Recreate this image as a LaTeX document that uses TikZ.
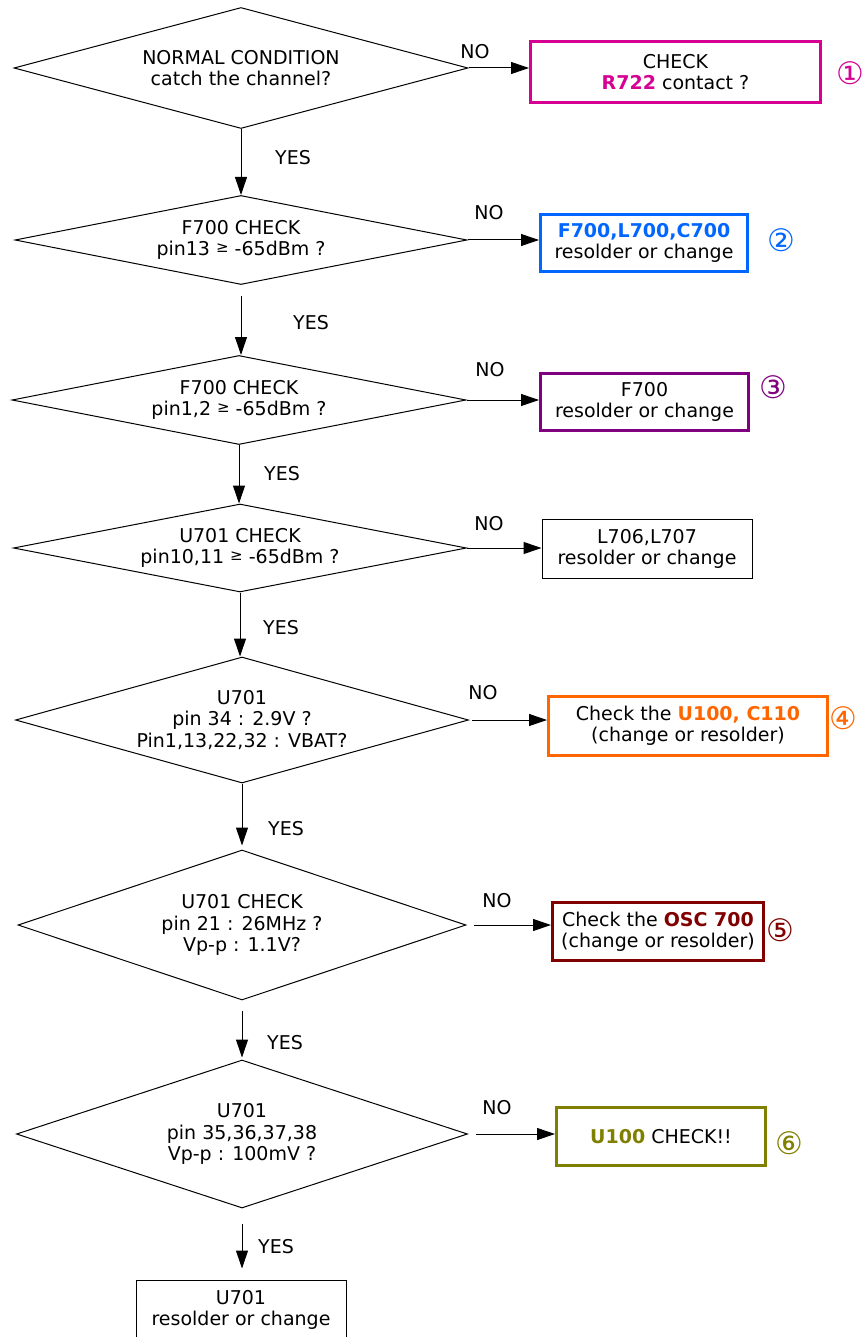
\documentclass[tikz,border=0pt]{standalone}
\usepackage{fontspec}
\setmainfont{DejaVu Sans}
\usetikzlibrary{shapes.geometric,arrows.meta}
\definecolor{MagentaClr}{RGB}{214,0,147}
\definecolor{BlueClr}{RGB}{0,102,255}
\definecolor{PurpleClr}{RGB}{128,0,128}
\definecolor{OrangeClr}{RGB}{255,102,0}
\definecolor{DarkRedClr}{RGB}{128,0,0}
\definecolor{OliveClr}{RGB}{128,128,0}
\newcommand{\gesign}{\raisebox{3pt}{\fontsize{15}{15}\selectfont ≥}}

\tikzset{
  txt/.style={font=\fontsize{19}{21.5}\selectfont, align=center},
  decision/.style={txt, diamond, draw, line width=1pt, inner sep=0pt, aspect=5},
  fixbox/.style={txt, rectangle, draw=#1, line width=3pt, inner sep=0pt},
  flow/.style={line width=1pt, -{Triangle[length=18pt,width=12pt]}},
  numtag/.style={text=#1, font=\fontsize{31}{31}\selectfont, inner sep=0pt}
}

\begin{document}
\begin{tikzpicture}[x=1pt,y=-1pt]
\useasboundingbox (0,0) rectangle (864,1337);

% Decisions.
\node[decision, minimum width=454pt, minimum height=121pt] (D1) at (241,68) {NORMAL CONDITION\\catch the channel?};
\node[decision, minimum width=452pt, minimum height=89pt] (D2) at (241,240) {F700 CHECK\\pin13 \gesign{} -65dBm ?};
\node[decision, minimum width=454pt, minimum height=89pt] (D3) at (239,400) {F700 CHECK\\pin1,2 \gesign{} -65dBm ?};
\node[decision, minimum width=453pt, minimum height=88pt] (D4) at (240,548) {U701 CHECK\\pin10,11 \gesign{} -65dBm ?};
\node[decision, aspect=3.6, minimum width=453pt, minimum height=126pt] (D5) at (242,720) {U701\\pin 34 : 2.9V ?\\Pin1,13,22,32 : VBAT?};
\node[decision, aspect=3.6, minimum width=448pt, minimum height=150pt] (D6) at (242,925) {U701 CHECK\\pin 21 : 26MHz ?\\Vp-p : 1.1V?};
\node[decision, aspect=3.6, minimum width=451pt, minimum height=148pt] (D7) at (242,1134) {U701\\pin 35,36,37,38\\Vp-p : 100mV ?};

% Repair boxes.
\node[fixbox=MagentaClr, minimum width=290pt, minimum height=61pt] (B1) at (675.5,72) {CHECK\\\textbf{\color{MagentaClr}R722} contact ?};
\node[fixbox=BlueClr, minimum width=207pt, minimum height=57pt] (B2) at (644,243) {\textbf{\color{BlueClr}F700,L700,C700}\\resolder or change};
\node[fixbox=PurpleClr, minimum width=208pt, minimum height=57pt] (B3) at (644.5,402) {F700\\resolder or change};
\node[fixbox=black, line width=1pt, minimum width=210pt, minimum height=59pt] (B4) at (647,549) {L706,L707\\resolder or change};
\node[fixbox=OrangeClr, minimum width=279pt, minimum height=59pt] (B5) at (688,726) {Check the \textbf{\color{OrangeClr}U100, C110}\\(change or resolder)};
\node[fixbox=DarkRedClr, minimum width=211pt, minimum height=58pt] (B6) at (658,931.5) {Check the \textbf{\color{DarkRedClr}OSC 700}\\(change or resolder)};
\node[fixbox=OliveClr, minimum width=209pt, minimum height=58pt] (B7) at (661,1136.5) {\textbf{\color{OliveClr}U100} CHECK!!};
\node[fixbox=black, line width=1pt, minimum width=210pt, minimum height=60pt] (B8) at (241,1310) {U701\\ resolder or change};

% Circled numbers.
\node[numtag=MagentaClr] (n1) at (850,73) {①};
\node[numtag=BlueClr] (n2) at (781,240) {②};
\node[numtag=PurpleClr] (n3) at (773,387) {③};
\node[numtag=OrangeClr] (n4) at (843,718) {④};
\node[numtag=DarkRedClr] (n5) at (780,930) {⑤};
\node[numtag=OliveClr] (n6) at (789,1143) {⑥};

% YES branches.
\draw[flow] (D1.south) -- (D1.south |- D2.north);
\draw[flow, shorten <=11pt] (D2.south) -- (D2.south |- D3.north);
\draw[flow] (D3.south) -- (D3.south |- D4.north);
\draw[flow] (D4.south) -- (D4.south |- D5.north);
\draw[flow, shorten >=4pt] (D5.south) -- (D5.south |- D6.north);
\draw[flow, shorten <=10pt, shorten >=2pt] (D6.south) -- (D6.south |- D7.north);
\draw[flow, shorten <=15pt, shorten >=11pt] (D7.south) -- (D7.south |- B8.north);

% NO branches.
\draw[flow] (D1.east) -- (D1.east -| B1.west);
\draw[flow] (D2.east) -- (D2.east -| B2.west);
\draw[flow] (D3.east) -- (D3.east -| B3.west);
\draw[flow] (D4.east) -- (D4.east -| B4.west);
\draw[flow, shorten <=3pt] (D5.east) -- (D5.east -| B5.west);
\draw[flow, shorten <=7pt] (D6.east) -- (D6.east -| B6.west);
\draw[flow, shorten <=8pt] (D7.east) -- (D7.east -| B7.west);

% Labels.
\node[txt] (y1) at (293,158) {YES};
\node[txt] (y2) at (311,323) {YES};
\node[txt] (y3) at (282,474) {YES};
\node[txt] (y4) at (281,628) {YES};
\node[txt] (y5) at (286,829) {YES};
\node[txt] (y6) at (285,1043) {YES};
\node[txt] (y7) at (276,1247) {YES};
\node[txt] (no1) at (475,52) {NO};
\node[txt] (no2) at (489,213) {NO};
\node[txt] (no3) at (490,370) {NO};
\node[txt] (no4) at (489,524) {NO};
\node[txt] (no5) at (483,693) {NO};
\node[txt] (no6) at (497,901) {NO};
\node[txt] (no7) at (497,1108) {NO};

\end{tikzpicture}
\end{document}
